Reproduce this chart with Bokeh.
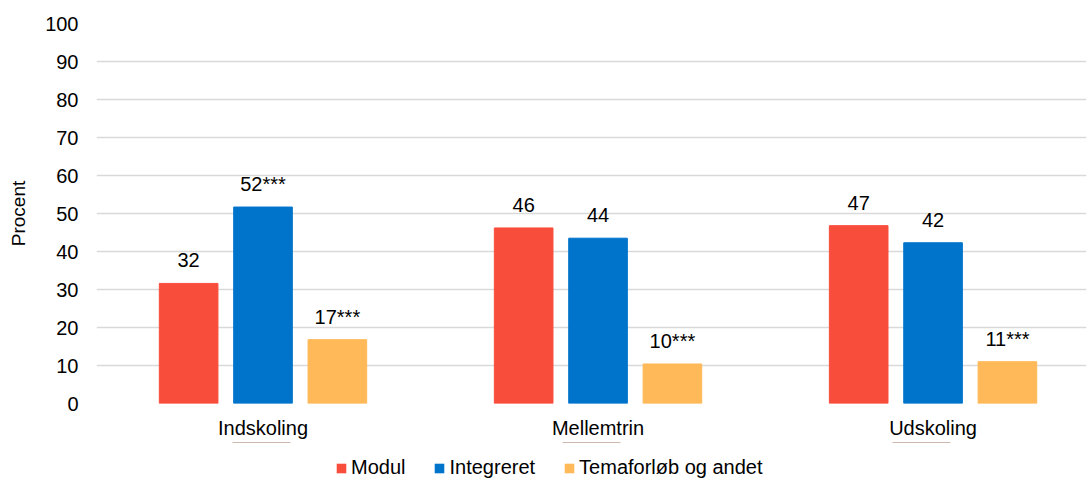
import numpy as np
from bokeh.plotting import figure
from bokeh.layouts import column
from bokeh.models import ColumnDataSource, Range1d, FixedTicker, LabelSet, Legend, LegendItem
from bokeh.core.properties import value
from bokeh.transform import dodge
from bokeh.embed import file_html
from bokeh.resources import INLINE

categories = ["Indskoling", "Mellemtrin", "Udskoling"]
series = ["Modul", "Integreret", "Temaforløb og andet"]
modul = [31.6, 46.2, 46.8]
integreret = [51.7, 43.5, 42.3]
tema = [16.8, 10.4, 11.0]
modul_labels = ["32", "46", "47"]
integreret_labels = ["52***", "44", "42"]
tema_labels = ["17***", "10***", "11***"]
y_ticks = [0, 10, 20, 30, 40, 50, 60, 70, 80, 90, 100]

colors = ["#F94D3C", "#0074CB", "#FFB958"]
FONT = "Liberation Sans"
FS = "20px"

x = list(range(len(categories)))
src = ColumnDataSource(dict(
    x=x, modul=modul, integreret=integreret, tema=tema,
    ml=modul_labels, il=integreret_labels, tl=tema_labels,
))

p = figure(width=1088, height=442, output_backend="svg", toolbar_location=None,
           x_range=Range1d(-0.497, 2.458), y_range=Range1d(0, 100),
           min_border_left=96, min_border_right=2, min_border_top=23, min_border_bottom=39)
p.outline_line_color = None
p.background_fill_color = "white"
p.border_fill_color = "white"

off = 0.222
w = 0.175
cols = ["modul", "integreret", "tema"]
labs = ["ml", "il", "tl"]
for i, (c, lab, col) in enumerate(zip(cols, labs, colors)):
    d = (i - 1) * off
    p.vbar(x=dodge("x", d, range=p.x_range), top=c, width=w, source=src,
           fill_color=col, line_color=col)
    ls = LabelSet(x=dodge("x", d, range=p.x_range), y=c, text=lab, source=src,
                  text_align="center", text_baseline="alphabetic", y_offset=16,
                  text_font=value(FONT), text_font_size=value(FS), text_color="#000000")
    p.add_layout(ls)

# axes
p.xaxis.ticker = FixedTicker(ticks=x)
p.xaxis.major_label_overrides = {i: c for i, c in enumerate(categories)}
p.yaxis.ticker = FixedTicker(ticks=y_ticks)
for ax in (p.xaxis[0], p.yaxis[0]):
    ax.axis_line_color = None
    ax.major_tick_line_color = None
    ax.minor_tick_line_color = None
    ax.major_tick_out = 0
    ax.major_tick_in = 0
    ax.minor_tick_out = 0
    ax.minor_tick_in = 0
    ax.major_label_text_font = FONT
    ax.major_label_text_font_size = FS
    ax.major_label_text_color = "#000000"
p.xaxis.major_label_standoff = 13
p.yaxis.major_label_standoff = 18
p.yaxis.axis_label = "Procent"
p.yaxis.axis_label_text_font = FONT
p.yaxis.axis_label_text_font_size = "19px"
p.yaxis.axis_label_text_font_style = "normal"
p.yaxis.axis_label_text_color = "#000000"
p.yaxis.axis_label_standoff = 13

p.xgrid.grid_line_color = None
p.ygrid.grid_line_color = "#d9d9d9"
p.ygrid.grid_line_width = 1.6
p.ygrid.ticker = FixedTicker(ticks=y_ticks)

# legend strip (its bars lie far outside its visible range; only the legend shows)
lp = figure(width=1088, height=38, output_backend="svg", toolbar_location=None,
            x_axis_type=None, y_axis_type=None,
            x_range=Range1d(-0.5, 2.5), y_range=Range1d(-300, -200),
            min_border_left=0, min_border_right=0, min_border_top=0, min_border_bottom=0)
lp.outline_line_color = None
lp.background_fill_color = "white"
lp.border_fill_color = "white"
lp.xgrid.grid_line_color = None
lp.ygrid.grid_line_color = None
items = []
for name, c, col in zip(series, cols, colors):
    r = lp.vbar(x="x", top=c, width=w, source=src, fill_color=col, line_color=None)
    items.append(LegendItem(label=name, renderers=[r]))
leg = Legend(items=items, orientation="horizontal", location=(239, 1),
             label_text_font=FONT, label_text_font_size=FS, label_text_color="#000000",
             glyph_width=12, glyph_height=12, label_standoff=4, spacing=28,
             padding=0, margin=0, border_line_color=None, background_fill_alpha=0)
lp.add_layout(leg, "center")

layout = column(p, lp, spacing=0)
open("out.html", "w").write(file_html(layout, INLINE))
